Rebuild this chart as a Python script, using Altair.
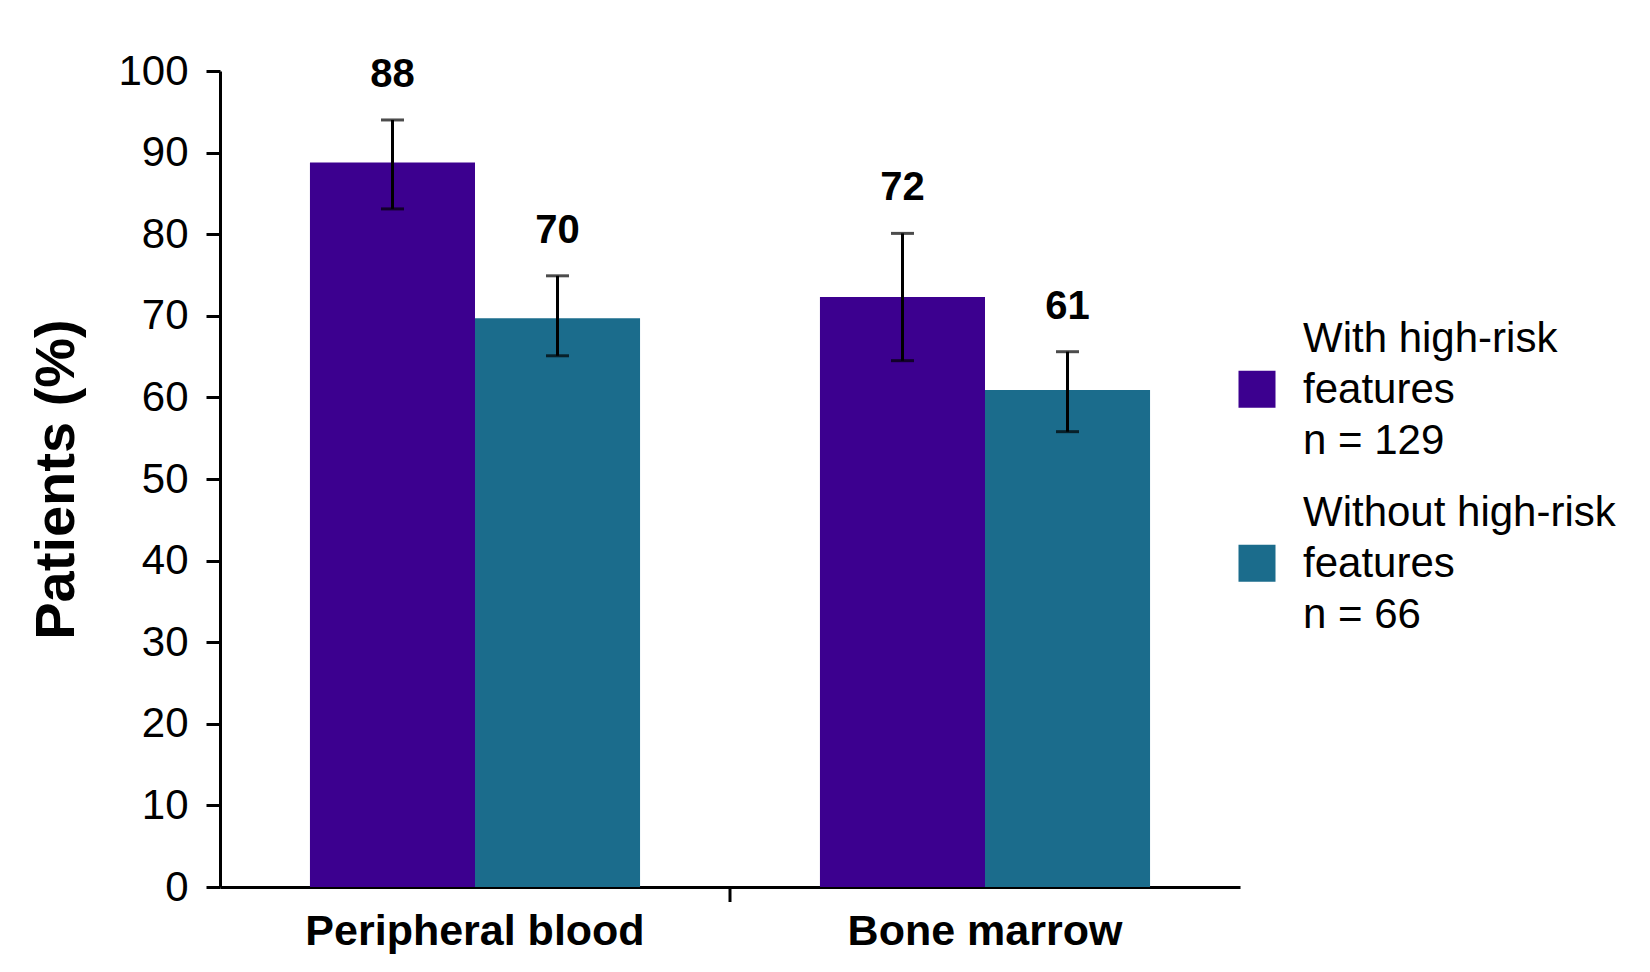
import altair as alt
import pandas as pd

# ---- data ----
categories = ["Peripheral blood", "Peripheral blood", "Bone marrow", "Bone marrow"]
category_order = ["Peripheral blood", "Bone marrow"]
group_order = ["With high-risk\nfeatures\nn = 129", "Without high-risk\nfeatures\nn = 66"]
groups = [group_order[0], group_order[1], group_order[0], group_order[1]]
values = [88.8, 69.7, 72.3, 60.9]
lower = [83.1, 65.1, 64.5, 55.8]
upper = [94.0, 74.9, 80.1, 65.6]
labels = ["88", "70", "72", "61"]
y_ticks = [0, 10, 20, 30, 40, 50, 60, 70, 80, 90, 100]
colors = ["#3C008F", "#1B6C8C"]

FONT = "Liberation Sans"

df = pd.DataFrame({
    "category": categories,
    "group": groups,
    "value": values,
    "lower": lower,
    "upper": upper,
    "label": labels,
})

x_enc = alt.X(
    "category:N",
    sort=category_order,
    scale=alt.Scale(paddingInner=0, paddingOuter=0),
    axis=alt.Axis(
        title=None, labelAngle=0, ticks=False, labelFontSize=43,
        labelFontWeight="bold", labelPadding=23, labelLimit=600,
        domainWidth=3, domainColor="black", labelColor="black", labelFont=FONT,
    ),
)
xo_enc = alt.XOffset(
    "group:N", sort=group_order,
    scale=alt.Scale(paddingInner=0, paddingOuter=0.545),
)

base = alt.Chart(df)

# square legend symbol drawn one text line lower, so it sits beside the middle line
legend_square = "M-1,1.72L1,1.72L1,3.72L-1,3.72Z"

bars = base.mark_bar().encode(
    x=x_enc,
    xOffset=xo_enc,
    y=alt.Y(
        "value:Q",
        scale=alt.Scale(domain=[0, 100]),
        axis=alt.Axis(
            values=y_ticks, grid=False, tickSize=14, tickWidth=3, tickColor="black",
            domainWidth=3, domainColor="black", labelFontSize=42, labelPadding=18,
            labelColor="black", labelFont=FONT,
            title="Patients (%)", titleFontSize=56, titleFontWeight="bold",
            titleColor="black", titlePadding=32, titleFont=FONT,
        ),
    ),
    color=alt.Color(
        "group:N",
        sort=group_order,
        scale=alt.Scale(domain=group_order, range=colors),
        legend=alt.Legend(
            orient="none", legendX=1016, legendY=247, title=None,
            symbolType=legend_square, symbolSize=1369, symbolStrokeWidth=0,
            symbolOpacity=1, labelFontSize=42, labelFont=FONT, labelColor="black",
            labelOffset=25, labelLimit=600, rowPadding=30,
            labelExpr="split(datum.label, '\\n')",
        ),
    ),
)

err = base.mark_rule(strokeWidth=3, color="black").encode(
    x=alt.X("category:N", sort=category_order),
    xOffset=xo_enc,
    y="lower:Q",
    y2="upper:Q",
)

cap_top = base.mark_tick(size=23, thickness=3, color="black").encode(
    x=alt.X("category:N", sort=category_order),
    xOffset=xo_enc,
    y="upper:Q",
)
cap_bot = base.mark_tick(size=23, thickness=3, color="black").encode(
    x=alt.X("category:N", sort=category_order),
    xOffset=xo_enc,
    y="lower:Q",
)

text = base.mark_text(
    fontSize=40, fontWeight="bold", baseline="alphabetic", dy=-33,
    color="black", font=FONT,
).encode(
    x=alt.X("category:N", sort=category_order),
    xOffset=xo_enc,
    y="upper:Q",
    text="label:N",
)

mid_tick = alt.Chart(pd.DataFrame({"category": [category_order[1]]})).mark_rule(
    strokeWidth=3, color="black"
).encode(
    x=alt.X("category:N", sort=category_order, bandPosition=0),
    y=alt.value(816),
    y2=alt.value(831),
)

chart = alt.layer(bars, err, cap_top, cap_bot, text, mid_tick).properties(
    width=1020,
    height=816,
    autosize=alt.AutoSizeParams(type="none"),
    padding={"left": 212, "top": 63, "right": 400, "bottom": 80},
).configure(
    font=FONT,
    style={"guide-label": {"lineHeight": 51}},
).configure_view(stroke=None)

chart.save("out.html", embed_options={"renderer": "svg", "actions": False})
